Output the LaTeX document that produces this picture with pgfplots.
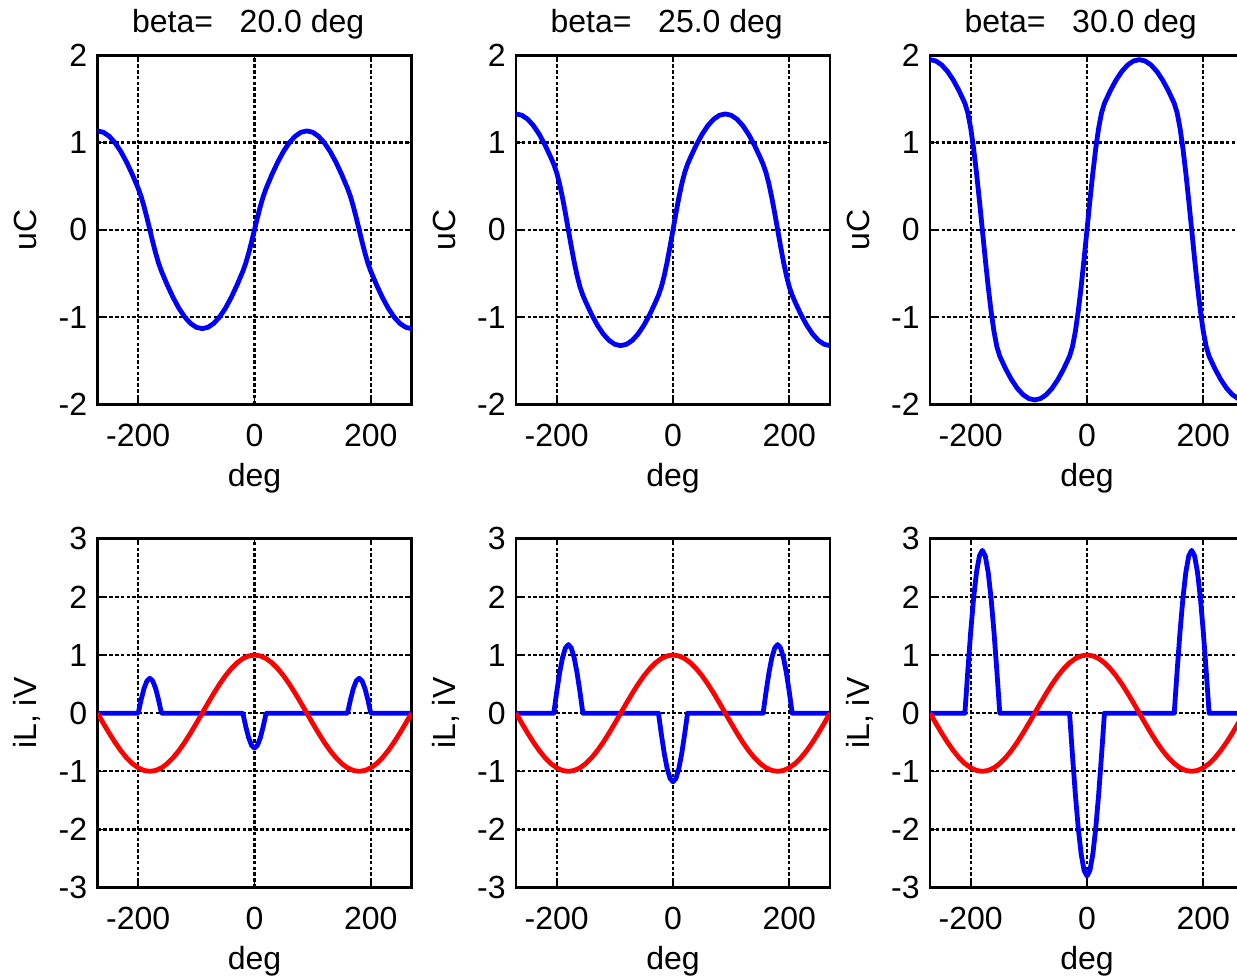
\documentclass[border=0pt]{standalone}
\usepackage{fontspec}
\setmainfont{Liberation Sans}
\usepackage{pgfplots}
\pgfplotsset{compat=1.18}
\pgfplotsset{
 myax/.style={
  scale only axis, width=157pt, height=174.5pt,
  xmin=-270, xmax=270,
  xtick={-200,0,200}, xticklabels={-200,0,200},
  grid=major,
  major grid style={black, line width=1.1pt, dash pattern=on 1.8pt off 1.1pt},
  axis line style={line width=1.4pt},
  tick style={black, line width=0.8pt}, major tick length=3pt, tick align=inside,
  xticklabel style={anchor=base, inner sep=0pt, yshift=-21pt},
  yticklabel style={anchor=east, inner sep=0pt, xshift=-5pt},
  xlabel={deg}, xlabel style={at={(axis description cs:0.5,-0.235)}, anchor=base},
  ylabel style={at={(axis description cs:-0.1936,0.5)}, anchor=base},
  every axis title shift=0pt,
  title style={at={(axis description cs:0.48,1.065)}, anchor=base},
  anchor=south west,
 },
 toprow/.style={myax, ymin=-2, ymax=2, ytick={-2,-1,0,1,2}, yticklabels={-2,-1,0,1,2}, ylabel={uC}},
 botrow/.style={myax, ymin=-3, ymax=3, ytick={-3,-2,-1,0,1,2,3}, yticklabels={-3,-2,-1,0,1,2,3}, ylabel={iL, iV}},
 bl/.style={blue, line width=2.4pt, line join=round},
 rd/.style={red, line width=2.4pt, line join=round},
}
\pgfplotstableread{
x y
-270 0
-260 -0.1736
-250 -0.3420
-240 -0.5
-230 -0.6428
-220 -0.7660
-210 -0.8660
-200 -0.9397
-190 -0.9848
-180 -1
-170 -0.9848
-160 -0.9397
-150 -0.8660
-140 -0.7660
-130 -0.6428
-120 -0.5
-110 -0.3420
-100 -0.1736
-90 0
-80 0.1736
-70 0.3420
-60 0.5
-50 0.6428
-40 0.7660
-30 0.8660
-20 0.9397
-10 0.9848
0 1
10 0.9848
20 0.9397
30 0.8660
40 0.7660
50 0.6428
60 0.5
70 0.3420
80 0.1736
90 0
100 -0.1736
110 -0.3420
120 -0.5
130 -0.6428
140 -0.7660
150 -0.8660
160 -0.9397
170 -0.9848
180 -1
190 -0.9848
200 -0.9397
210 -0.8660
220 -0.7660
230 -0.6428
240 -0.5
250 -0.3420
260 -0.1736
270 0
}\iLtab
\begin{document}
\fontsize{16}{19}\selectfont
\begin{tikzpicture}
\path[use as bounding box] (0,0) rectangle (618.5pt,488.5pt);
% ---------- top row ----------
\begin{axis}[toprow, at={(48.75pt,286.35pt)}, title={beta=\ \ \ 20.0 deg}]
\addplot[bl] coordinates {
(-270,1.133)(-260,1.1178)(-250,1.0727)(-240,0.999)(-230,0.899)(-220,0.7758)(-210,0.633)(-200,0.475)(-195,0.3817)(-190,0.2676)(-185,0.1381)(-180,0)(-175,-0.1381)(-170,-0.2676)(-165,-0.3817)(-160,-0.475)(-150,-0.633)(-140,-0.7758)(-130,-0.899)(-120,-0.999)(-110,-1.0727)(-100,-1.1178)(-90,-1.133)(-80,-1.1178)(-70,-1.0727)(-60,-0.999)(-50,-0.899)(-40,-0.7758)(-30,-0.633)(-20,-0.475)(-15,-0.3817)(-10,-0.2676)(-5,-0.1381)(0,0)(5,0.1381)(10,0.2676)(15,0.3817)(20,0.475)(30,0.633)(40,0.7758)(50,0.899)(60,0.999)(70,1.0727)(80,1.1178)(90,1.133)(100,1.1178)(110,1.0727)(120,0.999)(130,0.899)(140,0.7758)(150,0.633)(160,0.475)(165,0.3817)(170,0.2676)(175,0.1381)(180,0)(185,-0.1381)(190,-0.2676)(195,-0.3817)(200,-0.475)(210,-0.633)(220,-0.7758)(230,-0.899)(240,-0.999)(250,-1.0727)(260,-1.1178)(270,-1.133)};
\end{axis}
\begin{axis}[toprow, at={(258pt,286.35pt)}, title={beta=\ \ \ 25.0 deg}]
\addplot[bl] coordinates {
(-270,1.328)(-260,1.3128)(-250,1.2677)(-240,1.194)(-230,1.094)(-220,0.9708)(-210,0.828)(-205,0.7506)(-200,0.654)(-195,0.5242)(-190,0.3664)(-185,0.1886)(-180,0)(-175,-0.1886)(-170,-0.3664)(-165,-0.5242)(-160,-0.654)(-155,-0.7506)(-150,-0.828)(-140,-0.9708)(-130,-1.094)(-120,-1.194)(-110,-1.2677)(-100,-1.3128)(-90,-1.328)(-80,-1.3128)(-70,-1.2677)(-60,-1.194)(-50,-1.094)(-40,-0.9708)(-30,-0.828)(-25,-0.7506)(-20,-0.654)(-15,-0.5242)(-10,-0.3664)(-5,-0.1886)(0,0)(5,0.1886)(10,0.3664)(15,0.5242)(20,0.654)(25,0.7506)(30,0.828)(40,0.9708)(50,1.094)(60,1.194)(70,1.2677)(80,1.3128)(90,1.328)(100,1.3128)(110,1.2677)(120,1.194)(130,1.094)(140,0.9708)(150,0.828)(155,0.7506)(160,0.654)(165,0.5242)(170,0.3664)(175,0.1886)(180,0)(185,-0.1886)(190,-0.3664)(195,-0.5242)(200,-0.654)(205,-0.7506)(210,-0.828)(220,-0.9708)(230,-1.094)(240,-1.194)(250,-1.2677)(260,-1.3128)(270,-1.328)};
\end{axis}
\begin{axis}[toprow, at={(465pt,286.35pt)}, title={beta=\ \ \ 30.0 deg}]
\addplot[bl] coordinates {
(-270,1.95)(-260,1.9348)(-250,1.8897)(-240,1.816)(-230,1.716)(-220,1.5928)(-210,1.45)(-205,1.3402)(-200,1.1647)(-195,0.9305)(-190,0.6486)(-185,0.3331)(-180,0)(-175,-0.3331)(-170,-0.6486)(-165,-0.9305)(-160,-1.1647)(-155,-1.3402)(-150,-1.45)(-140,-1.5928)(-130,-1.716)(-120,-1.816)(-110,-1.8897)(-100,-1.9348)(-90,-1.95)(-80,-1.9348)(-70,-1.8897)(-60,-1.816)(-50,-1.716)(-40,-1.5928)(-30,-1.45)(-25,-1.3402)(-20,-1.1647)(-15,-0.9305)(-10,-0.6486)(-5,-0.3331)(0,0)(5,0.3331)(10,0.6486)(15,0.9305)(20,1.1647)(25,1.3402)(30,1.45)(40,1.5928)(50,1.716)(60,1.816)(70,1.8897)(80,1.9348)(90,1.95)(100,1.9348)(110,1.8897)(120,1.816)(130,1.716)(140,1.5928)(150,1.45)(155,1.3402)(160,1.1647)(165,0.9305)(170,0.6486)(175,0.3331)(180,0)(185,-0.3331)(190,-0.6486)(195,-0.9305)(200,-1.1647)(205,-1.3402)(210,-1.45)(220,-1.5928)(230,-1.716)(240,-1.816)(250,-1.8897)(260,-1.9348)(270,-1.95)};
\end{axis}
% ---------- bottom row ----------
\begin{axis}[botrow, at={(48.75pt,44.65pt)}]
\addplot[bl] coordinates {
(-270,0)(-200,0)(-195,0.2296)(-190,0.4243)(-185,0.5543)(-180,0.6)(-175,0.5543)(-170,0.4243)(-165,0.2296)(-160,0)(-20,0)(-15,-0.2296)(-10,-0.4243)(-5,-0.5543)(0,-0.6)(5,-0.5543)(10,-0.4243)(15,-0.2296)(20,0)(160,0)(165,0.2296)(170,0.4243)(175,0.5543)(180,0.6)(185,0.5543)(190,0.4243)(195,0.2296)(200,0)(270,0)};
\addplot[rd] table[x=x,y=y] {\iLtab};
\end{axis}
\begin{axis}[botrow, at={(258pt,44.65pt)}]
\addplot[bl] coordinates {
(-270,0)(-205,0)(-200,0.3646)(-195,0.6936)(-190,0.9546)(-185,1.1223)(-180,1.18)(-175,1.1223)(-170,0.9546)(-165,0.6936)(-160,0.3646)(-155,0)(-25,0)(-20,-0.3646)(-15,-0.6936)(-10,-0.9546)(-5,-1.1223)(0,-1.18)(5,-1.1223)(10,-0.9546)(15,-0.6936)(20,-0.3646)(25,0)(155,0)(160,0.3646)(165,0.6936)(170,0.9546)(175,1.1223)(180,1.18)(185,1.1223)(190,0.9546)(195,0.6936)(200,0.3646)(205,0)(270,0)};
\addplot[rd] table[x=x,y=y] {\iLtab};
\end{axis}
\begin{axis}[botrow, at={(465pt,44.65pt)}]
\addplot[bl] coordinates {
(-270,0)(-210,0)(-205,0.7246)(-200,1.4)(-195,1.9799)(-190,2.4249)(-185,2.7045)(-180,2.8)(-175,2.7045)(-170,2.4249)(-165,1.9799)(-160,1.4)(-155,0.7246)(-150,0)(-30,0)(-25,-0.7246)(-20,-1.4)(-15,-1.9799)(-10,-2.4249)(-5,-2.7045)(0,-2.8)(5,-2.7045)(10,-2.4249)(15,-1.9799)(20,-1.4)(25,-0.7246)(30,0)(150,0)(155,0.7246)(160,1.4)(165,1.9799)(170,2.4249)(175,2.7045)(180,2.8)(185,2.7045)(190,2.4249)(195,1.9799)(200,1.4)(205,0.7246)(210,0)(270,0)};
\addplot[rd] table[x=x,y=y] {\iLtab};
\end{axis}
\end{tikzpicture}
\end{document}
